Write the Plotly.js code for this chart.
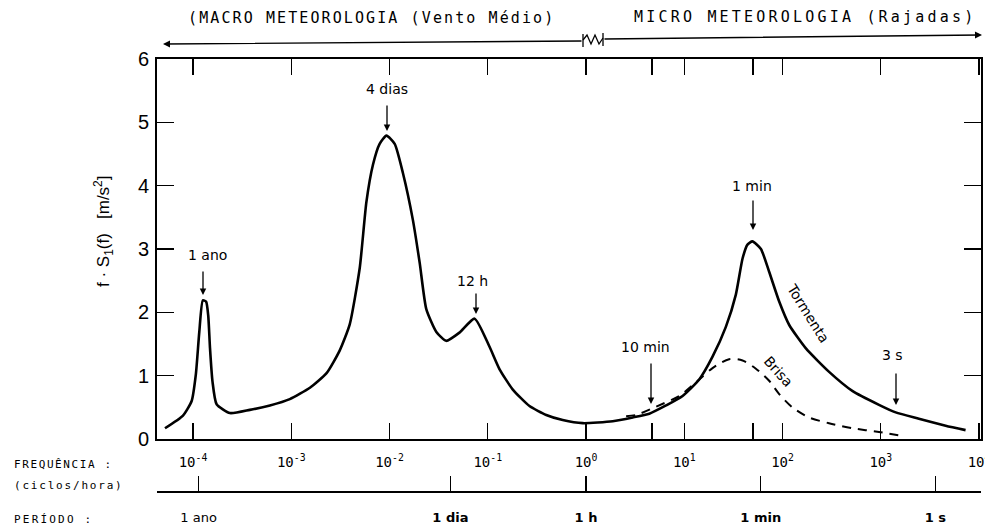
<!DOCTYPE html>
<html>
<head>
<meta charset="utf-8">
<script src="https://cdn.plot.ly/plotly-3.0.1.min.js"></script>
<style>
  html, body { margin: 0; padding: 0; background: #ffffff; }
  #chart { width: 985px; height: 530px; }
</style>
</head>
<body>
<div id="chart"></div>
<script>
// ---------- DATA ----------
// Storm spectrum ("Tormenta"): frequency in cycles/hour, f·S1(f) in m²/s²
const stormFreq = [5.19e-5, 7.91e-5, 9.70e-5, 1.07e-4, 1.16e-4, 1.26e-4, 1.36e-4, 1.43e-4, 1.49e-4, 1.58e-4,
  1.74e-4, 2.38e-4, 3.79e-4, 6.07e-4, 9.68e-4, 1.55e-3, 2.29e-3, 3.12e-3, 3.94e-3, 4.98e-3,
  5.82e-3, 6.79e-3, 7.94e-3, 9.31e-3, 1.13e-2, 1.37e-2, 1.73e-2, 2.03e-2, 2.37e-2, 3.00e-2,
  3.78e-2, 5.16e-2, 7.35e-2, 0.104, 0.132, 0.180, 0.266, 0.394, 0.579, 0.927,
  1.87, 2.99, 4.41, 6.52, 9.62, 14.2, 19.4, 26.5, 33.5, 39.2,
  44.0, 49.4, 60.3, 73.1, 92.5, 117, 173, 298, 513,
  959, 1419, 2443, 4571, 7295];
const stormValue = [0.17, 0.37, 0.60, 1.02, 1.69, 2.19, 2.17, 1.95, 1.44, 0.91,
  0.55, 0.41, 0.46, 0.53, 0.63, 0.81, 1.04, 1.40, 1.81, 2.70,
  3.74, 4.33, 4.66, 4.79, 4.66, 4.20, 3.46, 2.78, 2.05, 1.69,
  1.55, 1.68, 1.90, 1.46, 1.10, 0.78, 0.52, 0.38, 0.30, 0.25,
  0.28, 0.34, 0.40, 0.53, 0.68, 0.94, 1.30, 1.77, 2.28, 2.85,
  3.07, 3.12, 3.00, 2.64, 2.17, 1.80, 1.43, 1.06, 0.76,
  0.54, 0.42, 0.32, 0.21, 0.14];

// Breeze spectrum ("Brisa")
const breezeFreq = [2.56, 3.23, 5.15, 8.89, 14.2, 19.4, 28.6, 39.2, 53.6, 73.1, 92.5, 126, 186, 297, 513, 959, 1656];
const breezeValue = [0.36, 0.38, 0.51, 0.68, 0.94, 1.12, 1.26, 1.24, 1.11, 0.92, 0.71, 0.50, 0.34, 0.25, 0.17, 0.11, 0.05];

// Frequency axis (cycles/hour)
const freqTickVals = [1e-4, 1e-3, 1e-2, 1e-1, 1, 10, 100, 1000, 10000];
const freqTickText = ['10<sup>-4</sup>', '10<sup>-3</sup>', '10<sup>-2</sup>', '10<sup>-1</sup>', '10<sup>0</sup>',
  '10<sup>1</sup>', '10<sup>2</sup>', '10<sup>3</sup>', '10<sup>4</sup>'];
const extraTickMarks = [4.7, 50];

// Period axis
const periodTickVals = [1 / 8760, 1 / 24, 1, 60, 3600];
const periodTickText = ['1 ano', '<b>1 dia</b>', '<b>1 h</b>', '<b>1 min</b>', '<b>1 s</b>'];

// Y axis
const yTickVals = [0, 1, 2, 3, 4, 5, 6];

// ---------- LAYOUT HELPERS (pixel -> paper) ----------
const L = 157, R = 981, T = 59, B = 491;
const W = R - L, H = B - T;
const X = px => (px - L) / W;
const Y = py => (B - py) / H;
const mainBottom = Y(439);

const xRange = [-4.366, 4.02];
const mono = 'DejaVu Sans Mono, Liberation Mono, monospace';
const sans = 'DejaVu Sans, Liberation Sans, Arial, sans-serif';

const traces = [
  {
    x: stormFreq, y: stormValue, xaxis: 'x', yaxis: 'y', type: 'scatter', mode: 'lines',
    line: { color: '#000', width: 2.6, shape: 'spline', smoothing: 0.55 }, hoverinfo: 'skip', name: 'Tormenta'
  },
  {
    x: breezeFreq, y: breezeValue, xaxis: 'x', yaxis: 'y', type: 'scatter', mode: 'lines',
    line: { color: '#000', width: 2, dash: '9px,7px', shape: 'spline', smoothing: 0.8 }, hoverinfo: 'skip', name: 'Brisa'
  },
  // carrier (no visible marks) so that the period axis is drawn
  { x: [1], y: [null], xaxis: 'x2', yaxis: 'y2', type: 'scatter', mode: 'lines', hoverinfo: 'skip' }
];

function arrow(tipX, tipY, tailX, tailY, w) {
  return {
    xref: 'paper', yref: 'paper', x: X(tipX), y: Y(tipY), ax: tailX - tipX, ay: tailY - tipY,
    axref: 'pixel', ayref: 'pixel', text: '', showarrow: true, arrowhead: 2, arrowsize: 1,
    arrowwidth: w || 1.3, arrowcolor: '#000', standoff: 0, startstandoff: 0
  };
}
function label(px, py, text, opts) {
  const o = opts || {};
  return Object.assign({
    xref: 'paper', yref: 'paper', x: X(px), y: Y(py), text: text, showarrow: false,
    xanchor: 'center', yanchor: 'middle', font: { family: sans, size: 14, color: '#000' }
  }, o);
}

const annotations = [
  // header
  label(186, 18, '<span style="letter-spacing:2.1px">(MACRO METEOROLOGIA (Vento Médio)</span>',
    { xanchor: 'left', font: { family: mono, size: 15, color: '#000' } }),
  label(632, 17, '<span style="letter-spacing:3.2px">MICRO METEOROLOGIA (Rajadas)</span>',
    { xanchor: 'left', font: { family: mono, size: 15, color: '#000' } }),
  arrow(163, 44, 583, 41, 1.4),
  arrow(982, 35, 603, 39, 1.4),
  // peak labels
  label(207, 255, '1 ano'),
  arrow(203, 295, 203, 270),
  label(387, 89, '4 dias'),
  arrow(387, 131, 387, 104),
  label(472, 281, '12 h'),
  arrow(476, 314, 476, 292),
  label(752, 186, '1 min'),
  arrow(753, 230, 753, 199),
  label(645, 347, '10 min'),
  arrow(651, 404, 651, 362),
  label(892, 355, '3 s'),
  arrow(896, 405, 896, 372),
  // curve names
  label(808, 313, 'Tormenta', { textangle: 58 }),
  label(778, 371, 'Brisa', { textangle: 48 }),
  // y title
  label(104, 232, 'f · S<sub>1</sub>(f)   [m/s<sup>2</sup>]',
    { textangle: -90, font: { family: 'Liberation Sans, Arial, sans-serif', size: 17, color: '#000' } }),
  // bottom-left captions
  label(12, 464, '<span style="letter-spacing:1.6px">FREQUÊNCIA :</span>',
    { xanchor: 'left', font: { family: mono, size: 11, color: '#000' } }),
  label(12, 485, '<span style="letter-spacing:1.8px">(ciclos/hora)</span>',
    { xanchor: 'left', font: { family: mono, size: 11, color: '#000' } }),
  label(12, 519, '<span style="letter-spacing:2.2px">PERÍODO :</span>',
    { xanchor: 'left', font: { family: mono, size: 11, color: '#000' } })
];

// zig-zag separator between macro and micro meteorology
const zz = [[583, 40], [587, 35], [591, 44], [595, 35], [599, 44], [603, 38]];
const zzPath = 'M ' + zz.map(p => X(p[0]) + ',' + Y(p[1])).join(' L ');
const shapes = [
  { type: 'path', xref: 'paper', yref: 'paper', path: zzPath, line: { color: '#000', width: 1.3 } },
  { type: 'line', xref: 'paper', yref: 'paper', x0: X(583), x1: X(583), y0: Y(34), y1: Y(47), line: { color: '#000', width: 1.3 } },
  { type: 'line', xref: 'paper', yref: 'paper', x0: X(603), x1: X(603), y0: Y(33), y1: Y(46), line: { color: '#000', width: 1.3 } }
];

const baseX = {
  type: 'log', range: xRange, autorange: false, showgrid: false, zeroline: false, fixedrange: true, domain: [0, 1]
};

const layout = {
  width: 985, height: 530,
  margin: { l: L, r: 985 - R, t: T, b: 530 - B, pad: 0 },
  paper_bgcolor: '#fff', plot_bgcolor: 'rgba(0,0,0,0)',
  showlegend: false,
  font: { family: sans, color: '#000' },
  xaxis: Object.assign({}, baseX, {
    anchor: 'y', tickmode: 'array', tickvals: freqTickVals, ticktext: freqTickText,
    ticks: 'inside', ticklen: 16, tickwidth: 1.4, tickcolor: '#000',
    showline: true, linewidth: 2, linecolor: '#000', mirror: 'ticks',
    minor: { tickmode: 'array', tickvals: extraTickMarks, ticks: 'inside', ticklen: 16, tickwidth: 1.4, tickcolor: '#000', showgrid: false },
    tickfont: { family: mono, size: 14, color: '#000' }, ticklabelstandoff: 9, ticklabeloverflow: 'allow'
  }),
  // period axis
  xaxis2: Object.assign({}, baseX, {
    anchor: 'y2', tickmode: 'array', tickvals: periodTickVals, ticktext: periodTickText,
    ticks: 'inside', ticklen: 15, tickwidth: 1.4, tickcolor: '#000', showline: true, linewidth: 1.6, linecolor: '#000',
    tickfont: { family: sans, size: 13, color: '#000' }, ticklabelstandoff: 14, ticklabeloverflow: 'allow'
  }),
  yaxis: {
    anchor: 'x', domain: [mainBottom, 1], range: [0, 6], autorange: false, tickmode: 'array', tickvals: yTickVals,
    ticks: 'inside', ticklen: 17, tickwidth: 1.5, tickcolor: '#000', showline: true, linewidth: 2, linecolor: '#000',
    mirror: 'ticks', showgrid: false, zeroline: false, fixedrange: true,
    tickfont: { family: 'Liberation Sans Narrow, Liberation Sans, Arial, sans-serif', size: 20, color: '#000' },
    ticklabelstandoff: 2
  },
  yaxis2: { anchor: 'x2', domain: [0, 0.01], visible: false, range: [0, 1], autorange: false, fixedrange: true, showgrid: false, zeroline: false },
  annotations: annotations,
  shapes: shapes
};

Plotly.newPlot('chart', traces, layout, { staticPlot: true, displayModeBar: false });
</script>
</body>
</html>
